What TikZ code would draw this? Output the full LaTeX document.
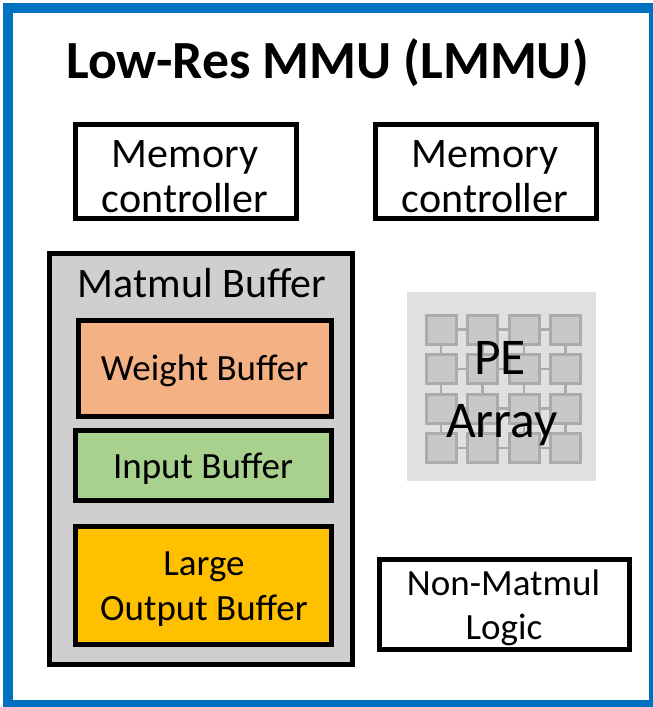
\documentclass[tikz,border=0pt]{standalone}
\usepackage{fontspec}
\setmainfont{Carlito}
\definecolor{frameblue}{HTML}{0070C0}
\definecolor{matgray}{HTML}{D0CECE}
\definecolor{weightfill}{HTML}{F4B183}
\definecolor{inputfill}{HTML}{A9D18E}
\definecolor{outputfill}{HTML}{FFC000}
\definecolor{pebg}{HTML}{E0E0E0}
\definecolor{pecellfill}{HTML}{C8C8C8}
\definecolor{pecellline}{HTML}{ABABAB}
\begin{document}
\begin{tikzpicture}[x=1pt,y=-1pt,
  block/.style={draw=black, line width=5pt, inner sep=0pt},
  pecell/.style={draw=pecellline, fill=pecellfill, line width=3pt, inner sep=0pt,
                 minimum width=30pt, minimum height=29pt},
  pelink/.style={draw=pecellline, line width=2.5pt},
  lbl/.style={anchor=base, inner sep=0pt, font=\fontsize{42}{46}\selectfont},
  lblsmall/.style={anchor=base, inner sep=0pt, font=\fontsize{37}{43}\selectfont},
  lblpe/.style={anchor=base, inner sep=0pt, font=\fontsize{51.5}{62}\selectfont}]
\useasboundingbox (0,0) rectangle (653,707);

% blue outer frame
\fill[frameblue] (3,3) rectangle (653,707);
\fill[white] (13,13) rectangle (649,700);

% title
\node[anchor=base, inner sep=0pt, font=\fontsize{53.7}{60}\selectfont\bfseries]
  (title) at (327.5,78) {Low-Res MMU (LMMU)};

% memory controllers
\node[block, minimum width=221pt, minimum height=94pt] (mc1) at (186,171.5) {};
\node[lbl] (mc1a) at (185,167) {Memory};
\node[lbl] (mc1b) at (185,212) {controller};
\node[block, minimum width=221pt, minimum height=94pt] (mc2) at (486,171.5) {};
\node[lbl] (mc2a) at (485,167) {Memory};
\node[lbl] (mc2b) at (485,212) {controller};

% matmul buffer with its three sub-buffers
\node[block, fill=matgray, minimum width=303pt, minimum height=411pt] (mm) at (201,459) {};
\node[lbl] (mmt) at (202,297) {Matmul Buffer};
\node[block, fill=weightfill, minimum width=253pt, minimum height=96pt] (wb) at (205,368.5) {};
\node[lblsmall] (wbt) at (204.5,380) {Weight Buffer};
\node[block, fill=inputfill, minimum width=256pt, minimum height=70pt] (ib) at (203.5,465.5) {};
\node[lblsmall] (ibt) at (203,478) {Input Buffer};
\node[block, fill=outputfill, minimum width=256pt, minimum height=118pt] (ob) at (203.5,585.5) {};
\node[lblsmall] (oba) at (204,575) {Large};
\node[lblsmall] (obb) at (204,620) {Output Buffer};

% non-matmul logic
\node[block, minimum width=250pt, minimum height=90pt] (nm) at (504.5,604.5) {};
\node[lblsmall] (nma) at (503.5,595) {Non-Matmul};
\node[lblsmall] (nmb) at (504,639) {Logic};

% PE array: 4x4 grid of processing elements
\node[fill=pebg, inner sep=0pt, minimum size=189pt] (pebox) at (501.5,386.5) {};
\foreach \r in {1,...,4}
  \foreach \c in {1,...,4}
    \node[pecell] (pe\r\c) at ({441+41.5*(\c-1)},{329.5+39.5*(\r-1)}) {};
\foreach \r in {1,...,4}
  \foreach \c/\n in {1/2,2/3,3/4}
    \draw[pelink] (pe\r\c) -- (pe\r\n);
\foreach \c in {1,...,4}
  \foreach \r/\n in {1/2,2/3,3/4}
    \draw[pelink] (pe\r\c) -- (pe\n\c);
\node[lblpe] (pea) at (500,374) {PE};
\node[lblpe] (peb) at (502,437) {Array};
\end{tikzpicture}
\end{document}
